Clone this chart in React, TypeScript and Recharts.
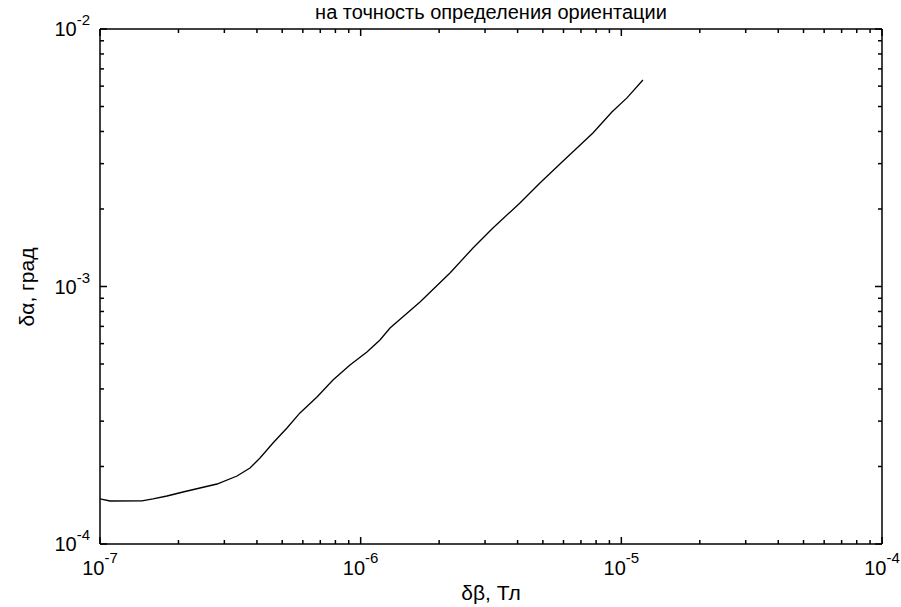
import { LineChart, Line, XAxis, YAxis } from "recharts";

// δβ (Тл) against δα (град)
const fieldErr = [
  1e-7, 1.093e-7, 1.449e-7, 1.597e-7, 1.807e-7, 2.082e-7, 2.418e-7, 2.811e-7,
  3.354e-7, 3.762e-7, 4.11e-7, 4.609e-7, 5.216e-7, 5.85e-7, 6.8e-7, 7.83e-7,
  9.1e-7, 1.057e-6, 1.186e-6, 1.296e-6, 1.689e-6, 2.201e-6, 2.697e-6,
  3.217e-6, 4.083e-6, 4.873e-6, 5.814e-6, 7.78e-6, 9.2e-6, 1.051e-5, 1.21e-5,
];
const angleErr = [
  1.496e-4, 1.469e-4, 1.47e-4, 1.496e-4, 1.536e-4, 1.592e-4, 1.65e-4, 1.71e-4,
  1.837e-4, 1.974e-4, 2.158e-4, 2.467e-4, 2.822e-4, 3.228e-4, 3.723e-4,
  4.335e-4, 4.955e-4, 5.57e-4, 6.2e-4, 6.9e-4, 8.71e-4, 1.128e-3, 1.411e-3,
  1.687e-3, 2.11e-3, 2.523e-3, 2.99e-3, 3.946e-3, 4.76e-3, 5.4e-3, 6.34e-3,
];

const xDecades = [-7, -6, -5, -4];
const yDecades = [-4, -3, -2];
const minorSteps = [1, 2, 3, 4, 5, 6, 7, 8, 9];

const titleText = "на точность определения ориентации";
const xTitle = "δβ, Тл";
const yTitle = "δα, град";

const buildTicks = (decades: number[]) => {
  const out: number[] = [];
  decades.forEach((d, i) => {
    if (i === decades.length - 1) {
      out.push(Math.pow(10, d));
    } else {
      minorSteps.forEach((m) => out.push(m * Math.pow(10, d)));
    }
  });
  return out;
};

const xTicks = buildTicks(xDecades);
const yTicks = buildTicks(yDecades);

const data = fieldErr.map((x, i) => ({ x, y: angleErr[i] }));

const FONT = "'Liberation Sans', Arial, sans-serif";
const MAJOR = 7;
const MINOR = 4;
const AXIS_W = 1.5;

const decadeOf = (v: number) => {
  const l = Math.log10(v);
  return Math.abs(l - Math.round(l)) < 1e-6 ? Math.round(l) : null;
};

function BottomTick({ x, y, payload }: any) {
  const d = decadeOf(payload.value);
  const len = d === null ? MINOR : MAJOR;
  return (
    <g>
      <line x1={x} x2={x} y1={y} y2={y - len} stroke="#000" strokeWidth={AXIS_W} />
      {d !== null && (
        <text x={x} y={y + 31} textAnchor="middle" fontFamily={FONT} fontSize={20} fill="#000">
          10
          <tspan dy={-12} fontSize={15}>
            {d}
          </tspan>
        </text>
      )}
    </g>
  );
}

function TopTick({ x, y, payload }: any) {
  const d = decadeOf(payload.value);
  const len = d === null ? MINOR : MAJOR;
  return <line x1={x} x2={x} y1={y} y2={y + len} stroke="#000" strokeWidth={AXIS_W} />;
}

function LeftTick({ x, y, payload }: any) {
  const d = decadeOf(payload.value);
  const len = d === null ? MINOR : MAJOR;
  return (
    <g>
      <line x1={x} x2={x + len} y1={y} y2={y} stroke="#000" strokeWidth={AXIS_W} />
      {d !== null && (
        <text x={x - 10} y={y + 7} textAnchor="end" fontFamily={FONT} fontSize={20} fill="#000">
          10
          <tspan dy={-11} fontSize={15}>
            {d}
          </tspan>
        </text>
      )}
    </g>
  );
}

function RightTick({ x, y, payload }: any) {
  const d = decadeOf(payload.value);
  const len = d === null ? MINOR : MAJOR;
  return <line x1={x} x2={x - len} y1={y} y2={y} stroke="#000" strokeWidth={AXIS_W} />;
}

const axisLine = { stroke: "#000", strokeWidth: AXIS_W };

export default function App() {
  return (
    <div style={{ position: "absolute", left: 0, top: 0, width: 901, height: 607, background: "#fff" }}>
      <LineChart
        width={901}
        height={607}
        data={data}
        margin={{ top: 28, right: 18, bottom: 62, left: 99 }}
      >
        <XAxis
          xAxisId="b"
          dataKey="x"
          type="number"
          scale="log"
          domain={[1e-7, 1e-4]}
          allowDataOverflow
          ticks={xTicks}
          interval={0}
          height={1}
          tickSize={0}
          tickMargin={0}
          tickLine={false}
          axisLine={axisLine}
          tick={<BottomTick />}
        />
        <XAxis
          xAxisId="t"
          orientation="top"
          dataKey="x"
          type="number"
          scale="log"
          domain={[1e-7, 1e-4]}
          allowDataOverflow
          ticks={xTicks}
          interval={0}
          height={1}
          tickSize={0}
          tickMargin={0}
          tickLine={false}
          axisLine={axisLine}
          tick={<TopTick />}
        />
        <YAxis
          yAxisId="l"
          dataKey="y"
          type="number"
          scale="log"
          domain={[1e-4, 1e-2]}
          allowDataOverflow
          ticks={yTicks}
          interval={0}
          width={1}
          tickSize={0}
          tickMargin={0}
          tickLine={false}
          axisLine={axisLine}
          tick={<LeftTick />}
        />
        <YAxis
          yAxisId="r"
          orientation="right"
          dataKey="y"
          type="number"
          scale="log"
          domain={[1e-4, 1e-2]}
          allowDataOverflow
          ticks={yTicks}
          interval={0}
          width={1}
          tickSize={0}
          tickMargin={0}
          tickLine={false}
          axisLine={axisLine}
          tick={<RightTick />}
        />
        <Line
          xAxisId="b"
          yAxisId="l"
          type="linear"
          dataKey="y"
          stroke="#000"
          strokeWidth={1.3}
          dot={false}
          isAnimationActive={false}
        />
      </LineChart>
      <svg
        width={901}
        height={607}
        style={{ position: "absolute", left: 0, top: 0, pointerEvents: "none" }}
      >
        <text x={491} y={19} textAnchor="middle" fontFamily={FONT} fontSize={20} fill="#000">
          {titleText}
        </text>
        <text x={491} y={600} textAnchor="middle" fontFamily={FONT} fontSize={21} fill="#000">
          {xTitle}
        </text>
        <text
          x={0}
          y={0}
          transform="translate(34 287) rotate(-90)"
          textAnchor="middle"
          fontFamily={FONT}
          fontSize={21}
          fill="#000"
        >
          {yTitle}
        </text>
      </svg>
    </div>
  );
}
